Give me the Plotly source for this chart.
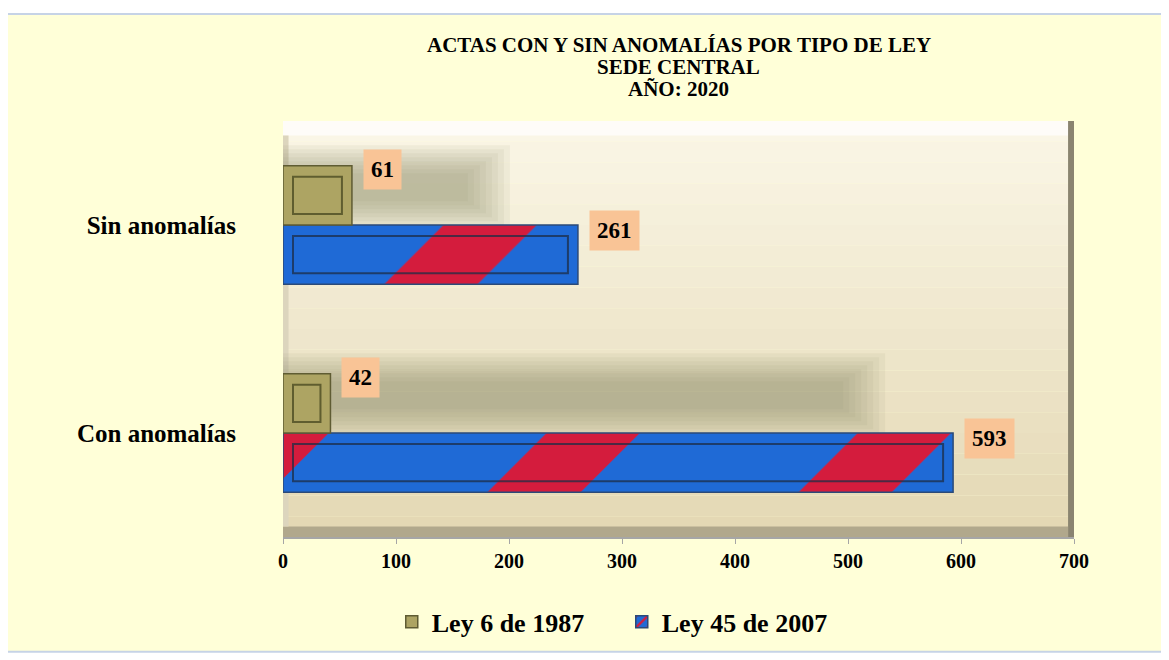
import plotly.graph_objects as go

categories = ["Con anomalías", "Sin anomalías"]
ley_6_1987 = [42, 61]
ley_45_2007 = [593, 261]
x_ticks = [0, 100, 200, 300, 400, 500, 600, 700]

title_lines = [
    "ACTAS CON Y SIN ANOMALÍAS POR TIPO DE LEY",
    "SEDE CENTRAL",
    "AÑO: 2020",
]

FONT = "Liberation Serif"
PLOT_H = 416  # plot area height in px
PX_PER_UNIT = 791 / 700
CAT_PX = PLOT_H / 2  # px per category step
BARGAP = 0.43
SLOT = (1 - BARGAP) / 2  # height of one bar in category units

fig = go.Figure()

# Ley 45 first so it sits at the bottom of each group
fig.add_trace(go.Bar(
    y=categories,
    x=ley_45_2007,
    orientation="h",
    name="<b>Ley 45 de 2007</b>",
    legendrank=2,
    marker=dict(
        color="#1F6AD6",
        line=dict(color="#2B4A78", width=1.5),
        pattern=dict(shape="/", fgcolor="#E8142C", bgcolor="#1F6AD6",
                     size=220, solidity=0.3, fgopacity=0.9, fillmode="overlay"),
    ),
))
fig.add_trace(go.Bar(
    y=categories,
    x=ley_6_1987,
    orientation="h",
    name="<b>Ley 6 de 1987</b>",
    legendrank=1,
    marker=dict(color="#ADA463", line=dict(color="#5F5C33", width=1.5)),
))

# value labels
for vals, shift in [(ley_6_1987, 56), (ley_45_2007, -5)]:
    for cat, v in zip(categories, vals):
        fig.add_annotation(
            x=v, y=cat, text=f"<b>{v}</b>", showarrow=False,
            xanchor="left", xshift=11, yshift=shift,
            bgcolor="#F9C496", borderpad=7,
            font=dict(family=FONT, size=23, color="black"),
        )

# title, three lines
for i, line in enumerate(title_lines):
    fig.add_annotation(
        x=0.5, xref="paper", y=1.0 + (76 - 22 * i) / PLOT_H, yref="paper",
        text=f"<b>{line}</b>", showarrow=False, xanchor="center", yanchor="middle",
        font=dict(family=FONT, size=21, color="black"),
    )

shapes = []
# outer frame
shapes.append(dict(type="rect", xref="paper", yref="paper", layer="below",
                   x0=-0.349, x1=1.115, y0=-0.276, y1=1.257,
                   fillcolor="#FFFFD8", line=dict(color="#C6D3E6", width=2)))
# plot area gradient (light top, tan bottom)
top = (250, 246, 230)
bot = (228, 216, 180)
n = 20
for i in range(n):
    t = i / (n - 1)
    c = tuple(round(top[k] + (bot[k] - top[k]) * t) for k in range(3))
    shapes.append(dict(type="rect", xref="x domain", yref="y domain", layer="below",
                       x0=0, x1=1, y0=1 - (i + 1) / n, y1=1 - i / n,
                       fillcolor="rgb(%d,%d,%d)" % c, line=dict(width=0)))
# bevel edges
shapes.append(dict(type="rect", xref="x domain", yref="y domain", layer="below",
                   x0=0, x1=1, y0=0.965, y1=1, fillcolor="rgba(255,255,255,0.7)",
                   line=dict(width=0)))
shapes.append(dict(type="rect", xref="x domain", yref="y domain", layer="below",
                   x0=0.9925, x1=1, y0=0, y1=1, fillcolor="#8A8470", line=dict(width=0)))
shapes.append(dict(type="rect", xref="x domain", yref="y domain", layer="below",
                   x0=0, x1=0.9925, y0=0, y1=0.025, fillcolor="#B1A88C", line=dict(width=0)))
shapes.append(dict(type="rect", xref="x domain", yref="y domain", layer="below",
                   x0=0, x1=0.007, y0=0.025, y1=0.965, fillcolor="#DCD5BD", line=dict(width=0)))

# soft shadow of the long bars, behind the short ones
for idx, v in enumerate(ley_45_2007):
    mid = idx + SLOT / 2 + 8 / CAT_PX
    for k in range(8):
        grow = (7 - k) * 4  # px, outer layers first
        half = (14 + grow) / CAT_PX
        shapes.append(dict(type="rect", xref="x", yref="y", layer="below",
                           x0=0, x1=v - (110 - grow * 1.5) / PX_PER_UNIT,
                           y0=mid - half, y1=mid + half,
                           fillcolor="rgba(140,134,108,0.085)", line=dict(width=0)))

# inner frame on each bar
ix = 10 / PX_PER_UNIT
iy = 11 / CAT_PX
for idx, v in enumerate(ley_45_2007):
    shapes.append(dict(type="rect", xref="x", yref="y", layer="above",
                       x0=ix, x1=v - ix, y0=idx - SLOT + iy, y1=idx - iy,
                       line=dict(color="rgba(30,45,70,0.75)", width=2)))
for idx, v in enumerate(ley_6_1987):
    shapes.append(dict(type="rect", xref="x", yref="y", layer="above",
                       x0=ix, x1=v - ix, y0=idx + iy, y1=idx + SLOT - iy,
                       line=dict(color="rgba(70,70,30,0.75)", width=2)))

fig.update_layout(
    width=1161,
    height=652,
    autosize=False,
    margin=dict(l=275, r=95, t=113, b=123),
    paper_bgcolor="white",
    plot_bgcolor="rgba(0,0,0,0)",
    barmode="group",
    bargap=BARGAP,
    bargroupgap=0,
    shapes=shapes,
    font=dict(family=FONT, color="black"),
    showlegend=True,
    legend=dict(
        orientation="h", x=0.1375, xanchor="left", y=-0.204, yanchor="middle",
        font=dict(family=FONT, size=26, color="black"),
        entrywidth=185, itemwidth=30, bgcolor="rgba(0,0,0,0)",
        traceorder="normal",
    ),
    xaxis=dict(
        range=[0, 700],
        tickvals=x_ticks,
        ticktext=[f"<b>{t}</b>" for t in x_ticks],
        tickfont=dict(family=FONT, size=20, color="black"),
        showgrid=False,
        zeroline=False,
        showline=True,
        linecolor="#A6A6A6",
        linewidth=1.5,
        ticks="outside",
        ticklen=5,
        tickcolor="#A6A6A6",
        fixedrange=True,
    ),
    yaxis=dict(
        ticktext=[f"<b>{c}</b>" for c in categories],
        tickvals=categories,
        tickfont=dict(family=FONT, size=25, color="black"),
        showgrid=False,
        showline=False,
        ticks="",
        ticklabelstandoff=46,
        fixedrange=True,
    ),
)

fig.write_html("out.html")
